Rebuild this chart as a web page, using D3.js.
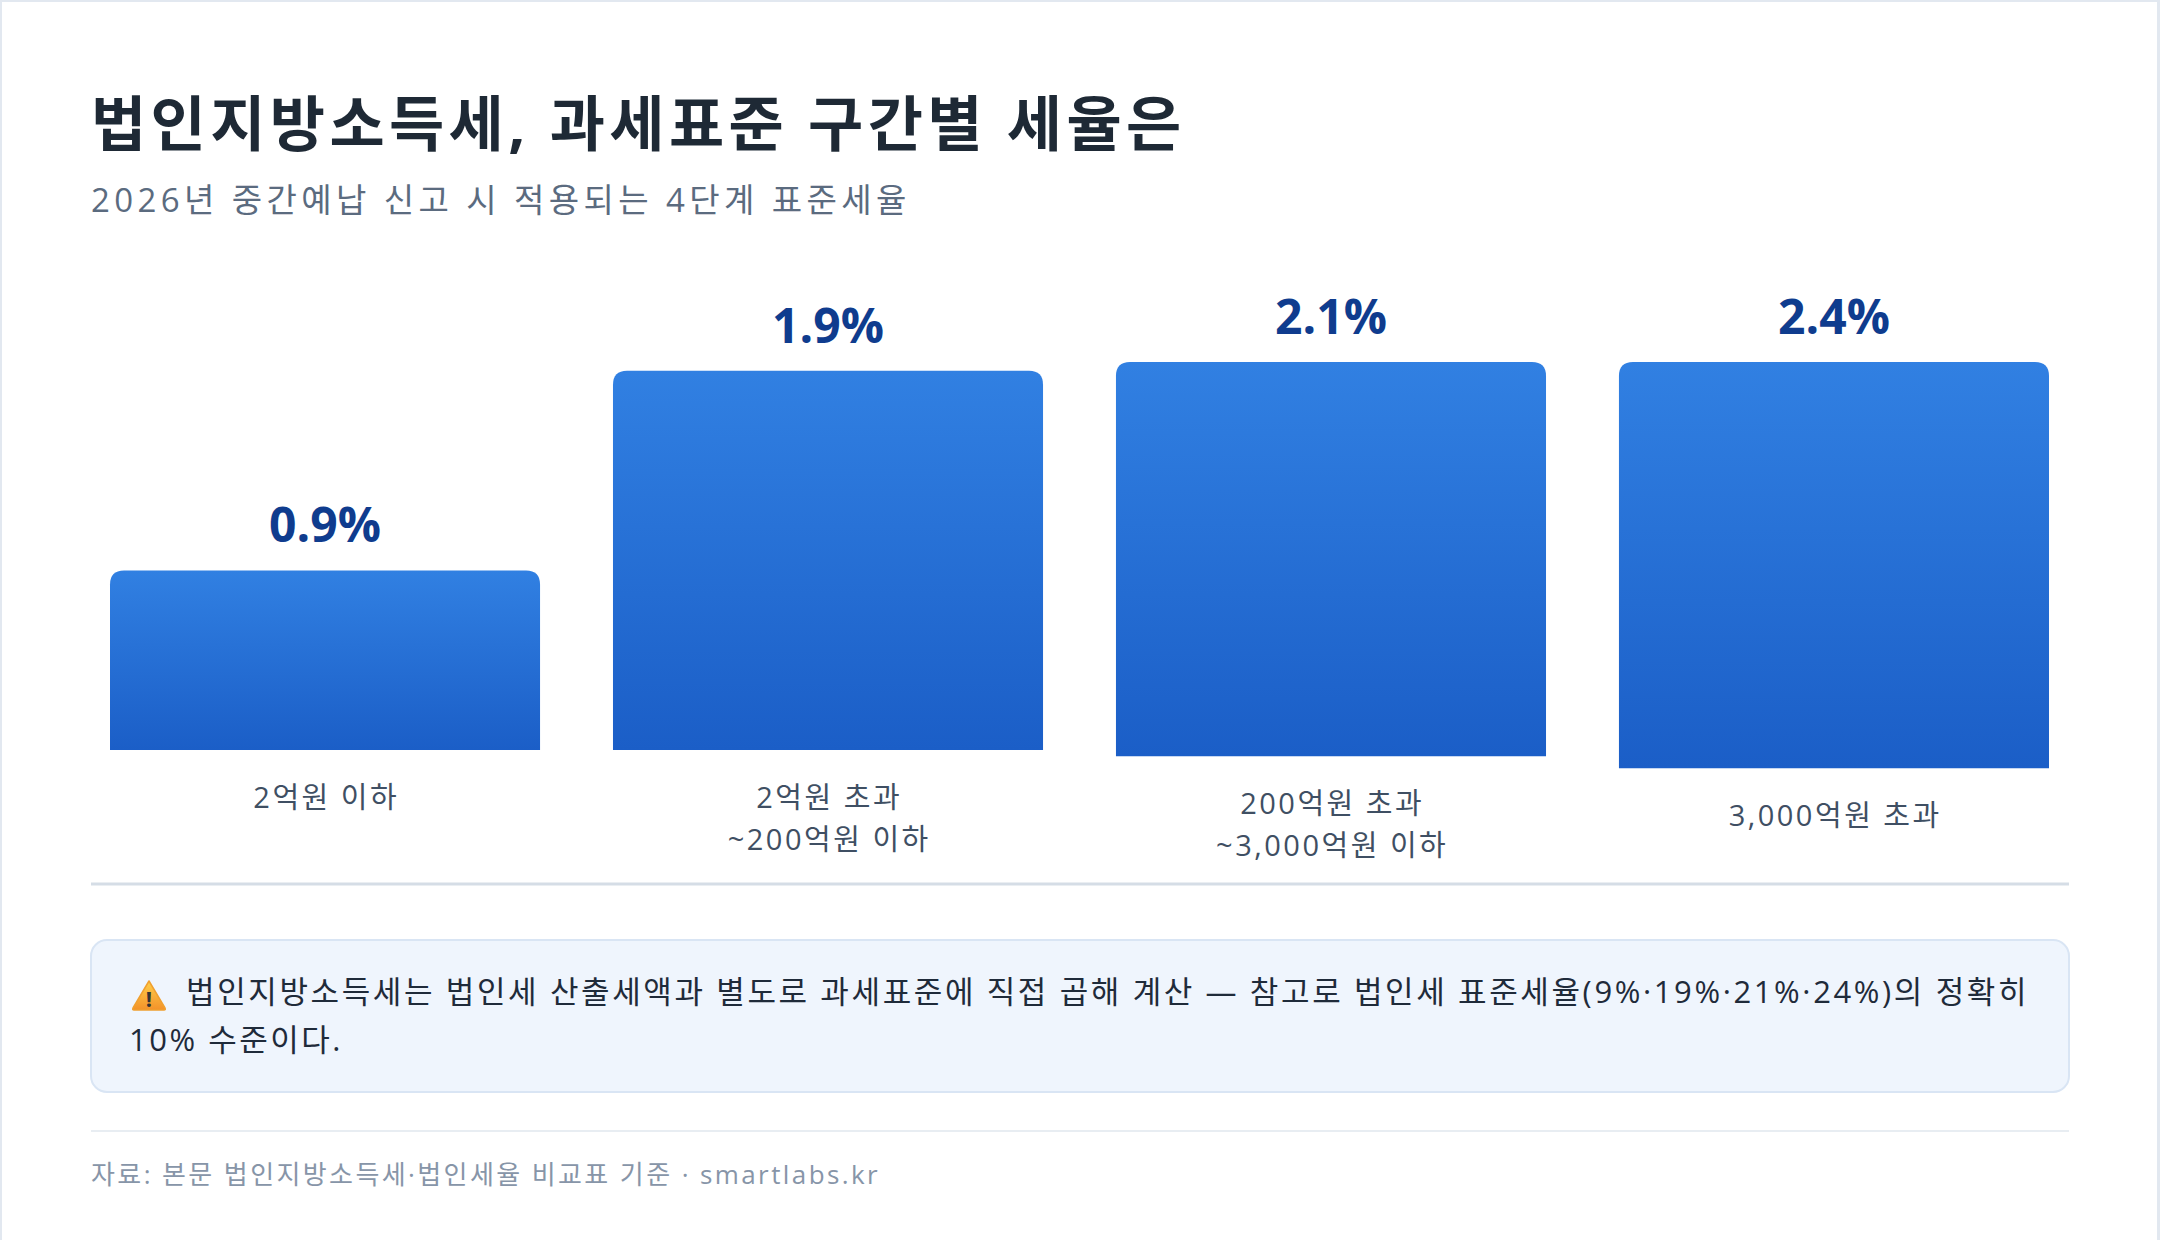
<!DOCTYPE html>
<html lang="ko">
<head>
<meta charset="utf-8">
<script src="https://cdn.jsdelivr.net/npm/d3@7"></script>
<style>
  html, body { margin: 0; padding: 0; background: #ffffff; }
  svg { display: block; }
  text { font-family: 'Open Sans', 'Noto Sans CJK KR', sans-serif; }
</style>
</head>
<body>
<svg id="chart" width="2160" height="1240"></svg>
<script>
// ---- data ----
const title = "법인지방소득세, 과세표준 구간별 세율은";
const subtitle = "2026년 중간예납 신고 시 적용되는 4단계 표준세율";
const categories = [
  ["2억원 이하"],
  ["2억원 초과", "~200억원 이하"],
  ["200억원 초과", "~3,000억원 이하"],
  ["3,000억원 초과"]
];
const rates = [0.9, 1.9, 2.1, 2.4];
const noteLines = [
  "법인지방소득세는 법인세 산출세액과 별도로 과세표준에 직접 곱해 계산 — 참고로 법인세 표준세율(9%·19%·21%·24%)의 정확히",
  "10% 수준이다."
];
const source = "자료: 본문 법인지방소득세·법인세율 비교표 기준 · smartlabs.kr";

// ---- layout ----
const W = 2160, H = 1240;
const left = 91, right = 2069;
const baseline = 750, topLimit = 362;

const svg = d3.select("#chart");
const defs = svg.append("defs");
const grad = defs.append("linearGradient").attr("id", "barGrad")
  .attr("x1", 0).attr("y1", 0).attr("x2", 0).attr("y2", 1);
grad.append("stop").attr("offset", "0%").attr("stop-color", "#3180e2");
grad.append("stop").attr("offset", "100%").attr("stop-color", "#1b5ec7");
const warn = defs.append("linearGradient").attr("id", "warnGrad")
  .attr("x1", 0).attr("y1", 0).attr("x2", 0).attr("y2", 1);
warn.append("stop").attr("offset", "0%").attr("stop-color", "#ffcf4a");
warn.append("stop").attr("offset", "100%").attr("stop-color", "#f3922a");

// page / card
svg.append("rect").attr("width", W).attr("height", H).attr("fill", "#e2e8f0");
svg.append("rect").attr("x", 2).attr("y", 2).attr("width", 2155).attr("height", H + 20).attr("fill", "#ffffff");

// title + subtitle
svg.append("text").attr("x", left).attr("y", 146)
  .attr("font-size", 60).attr("font-weight", 700).attr("fill", "#1e2935")
  .attr("letter-spacing", 4.4)
  .text(title);
svg.append("text").attr("x", left).attr("y", 212)
  .attr("font-size", 33).attr("fill", "#5b6b7f")
  .attr("letter-spacing", 4.4)
  .text(subtitle);

// scales
const x = d3.scaleBand().domain(d3.range(rates.length))
  .range([110, 2049]).paddingInner(0.145).paddingOuter(0);
const h = d3.scaleLinear().domain([0, 2.4]).range([0, 479]);

const bars = rates.map((v, i) => {
  const desiredTop = baseline - h(v);
  const overflow = Math.max(0, topLimit - desiredTop);
  return {
    v, i,
    x0: x(i), w: x.bandwidth(),
    top: Math.max(desiredTop, topLimit),
    bottom: baseline + overflow * 0.2
  };
});

function topRounded(x0, y0, w, hh, r) {
  return `M${x0},${y0 + hh} L${x0},${y0 + r} Q${x0},${y0} ${x0 + r},${y0} ` +
         `L${x0 + w - r},${y0} Q${x0 + w},${y0} ${x0 + w},${y0 + r} L${x0 + w},${y0 + hh} Z`;
}

const g = svg.append("g");
g.selectAll("path.bar").data(bars).join("path")
  .attr("class", "bar")
  .attr("d", d => topRounded(d.x0, d.top, d.w, d.bottom - d.top, 14))
  .attr("fill", "url(#barGrad)");

g.selectAll("text.val").data(bars).join("text")
  .attr("class", "val")
  .attr("x", d => d.x0 + d.w / 2)
  .attr("y", d => d.top - 28)
  .attr("text-anchor", "middle")
  .attr("font-size", 48).attr("font-weight", 700).attr("fill", "#0f3c8e")
  .text(d => d.v.toFixed(1) + "%");

const cat = g.selectAll("text.cat").data(bars).join("text")
  .attr("class", "cat")
  .attr("text-anchor", "middle")
  .attr("letter-spacing", 2.5)
  .attr("font-size", 29).attr("fill", "#3f4f63");
cat.selectAll("tspan").data(d => categories[d.i].map((t, k) => ({ t, k, d }))).join("tspan")
  .attr("x", o => o.d.x0 + o.d.w / 2 + 1.2)
  .attr("y", o => o.d.bottom + 47.5 + 10.5 + o.k * 42)
  .text(o => o.t);

// divider
svg.append("line").attr("x1", left).attr("x2", right).attr("y1", 884).attr("y2", 884)
  .attr("stroke", "#d5dde6").attr("stroke-width", 3);

// note box
svg.append("rect").attr("x", left).attr("y", 940).attr("width", right - left).attr("height", 152)
  .attr("rx", 16).attr("fill", "#eff5fd").attr("stroke", "#d9e5f4").attr("stroke-width", 2);
// warning icon
const ic = svg.append("g").attr("transform", "translate(149,995)");
ic.append("path").attr("d", "M0,-14 L16,13 Q17,15 15,15 L-15,15 Q-17,15 -16,13 Z")
  .attr("fill", "url(#warnGrad)").attr("stroke", "#f0a030").attr("stroke-width", 1.5).attr("stroke-linejoin", "round");
ic.append("text").attr("x", 0).attr("y", 12).attr("text-anchor", "middle")
  .attr("font-size", 22).attr("font-weight", 700).attr("fill", "#333").text("!");

svg.append("text").attr("x", 186).attr("y", 1003)
  .attr("font-size", 31).attr("fill", "#1f2b3a").attr("letter-spacing", 2.62).text(noteLines[0]);
svg.append("text").attr("x", 129).attr("y", 1051)
  .attr("font-size", 31).attr("fill", "#1f2b3a").attr("letter-spacing", 2.5).text(noteLines[1]);

// footer
svg.append("line").attr("x1", left).attr("x2", right).attr("y1", 1131).attr("y2", 1131)
  .attr("stroke", "#e8edf2").attr("stroke-width", 2);
svg.append("text").attr("x", left).attr("y", 1184)
  .attr("font-size", 26).attr("fill", "#8795a8").attr("letter-spacing", 2.4).text(source);
</script>
</body>
</html>
